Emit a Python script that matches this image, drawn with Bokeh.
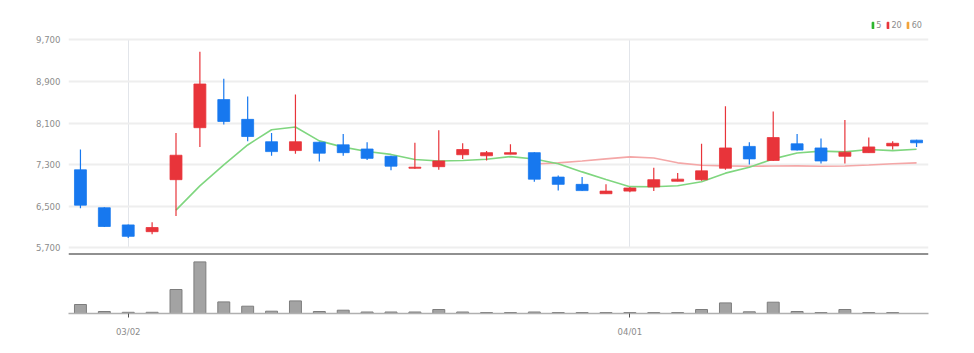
from bokeh.plotting import figure
from bokeh.layouts import column
from bokeh.models import Range1d, FixedTicker, Span, NumeralTickFormatter, ColumnDataSource
from bokeh.embed import file_html
from bokeh.resources import INLINE

# ---- data ----
opens  = [7200, 6470, 6140, 6010, 7010, 8010, 8550, 8170, 7740, 7570, 7730, 7680, 7600, 7460, 7230, 7260, 7490, 7470,
          7500, 7530, 7060, 6920, 6740, 6790, 6870, 6980, 7010, 7230, 7650, 7380, 7700, 7620, 7460, 7530, 7660, 7770]
highs  = [7590, 6480, 6150, 6190, 7910, 9470, 8950, 8610, 7910, 8650, 7740, 7890, 7730, 7470, 7720, 7960, 7710, 7560,
          7690, 7540, 7090, 7060, 6920, 6870, 7240, 7140, 7700, 8420, 7730, 8320, 7890, 7800, 8160, 7820, 7750, 7780]
lows   = [6460, 6100, 5890, 5960, 6310, 7640, 8070, 7750, 7470, 7510, 7360, 7470, 7390, 7190, 7220, 7200, 7410, 7380,
          7500, 6970, 6800, 6790, 6740, 6770, 6790, 6980, 6990, 7200, 7300, 7370, 7570, 7320, 7320, 7530, 7590, 7640]
closes = [6520, 6110, 5920, 6090, 7480, 8850, 8130, 7840, 7550, 7740, 7520, 7530, 7420, 7270, 7250, 7370, 7590, 7530,
          7530, 7020, 6920, 6800, 6790, 6850, 7010, 7020, 7180, 7620, 7410, 7820, 7580, 7370, 7540, 7640, 7710, 7720]
volumes = [180, 40, 24, 24, 480, 1032, 232, 146, 46, 252, 40, 66, 30, 30, 30, 80, 30, 20,
           20, 30, 20, 20, 20, 20, 20, 20, 80, 212, 34, 226, 40, 20, 80, 20, 20, 0]
ma5  = [None] * 4 + [6424, 6890, 7294, 7678, 7970, 8022, 7756, 7636, 7552, 7496, 7398, 7368, 7380, 7402, 7454,
                     7408, 7318, 7160, 7012, 6876, 6874, 6894, 6970, 7136, 7248, 7410, 7522, 7560, 7544, 7590,
                     7568, 7596]
ma20 = [None] * 19 + [7313, 7333, 7368, 7411, 7449, 7426, 7334, 7287, 7276, 7269, 7273, 7276, 7268, 7274, 7292,
                      7315, 7333]
price_ticks = [5700, 6500, 7300, 8100, 8900, 9700]
date_tick_index = [2, 23]
date_tick_labels = ["03/02", "04/01"]
legend_labels = ["5", "20", "60"]

# ---- styles ----
UP, DOWN = "#e8343a", "#1778ef"
GREEN, PINK = "#7fd67f", "#f4a7a7"
LEG_COLORS = ["#2db52d", "#e8343a", "#f2a43a"]
FONT = "DejaVu Sans Condensed"
LABEL_GRAY = "#8c8c8c"

n = len(closes)
idx = list(range(n))
colors = [UP if c >= o else DOWN for o, c in zip(opens, closes)]
src = ColumnDataSource(dict(
    x=idx, high=highs, low=lows,
    top=[max(o, c) for o, c in zip(opens, closes)],
    bottom=[min(o, c) for o, c in zip(opens, closes)],
    color=colors, vol=volumes,
))
nan = float("nan")
ma5f = [nan if v is None else v for v in ma5]
ma20f = [nan if v is None else v for v in ma20]

x_range = Range1d(-0.5, n - 0.5)

p1 = figure(width=974, height=256, x_range=x_range, y_range=Range1d(5571, 10187),
            x_axis_location=None, output_backend="svg", toolbar_location=None,
            min_border_left=68, min_border_right=46, min_border_top=14, min_border_bottom=2)
p1.outline_line_color = None
p1.yaxis.ticker = FixedTicker(ticks=price_ticks)
p1.yaxis.formatter = NumeralTickFormatter(format="0,0")
p1.yaxis.axis_line_color = None
p1.yaxis.major_tick_line_color = None
p1.yaxis.minor_tick_line_color = None
p1.yaxis.major_label_text_color = LABEL_GRAY
p1.yaxis.major_label_text_font = FONT
p1.yaxis.major_label_text_font_size = "9.5px"
p1.yaxis.major_label_standoff = 2
p1.ygrid.grid_line_color = "#eeeeee"
p1.ygrid.grid_line_width = 2
p1.xgrid.ticker = FixedTicker(ticks=date_tick_index)
p1.xgrid.grid_line_color = "#e2e5ea"
p1.xgrid.grid_line_width = 1
try:
    p1.xgrid.cross_bounds = (price_ticks[0], price_ticks[-1])
except AttributeError:
    pass

p1.line(idx, ma20f, line_color=PINK, line_width=1.6)
p1.line(idx, ma5f, line_color=GREEN, line_width=1.6)
p1.segment(x0="x", y0="low", x1="x", y1="high", source=src, line_color="color", line_width=1.2)
p1.vbar(x="x", width=0.5, top="top", bottom="bottom", source=src,
        fill_color="color", line_color="color", line_width=0.8)

p1.add_layout(Span(location=5571, dimension="width", line_color="#222222", line_width=2))

# legend swatches (moving-average periods); swatch renderers themselves are hidden
for lab, col in zip(legend_labels, LEG_COLORS):
    r = p1.rect(x=[idx[0]], y=[price_ticks[0]], width=1, height=1,
                fill_color=col, line_color=col, legend_label=lab)
    r.visible = False
leg = p1.legend[0]
leg.location = "top_right"
leg.orientation = "horizontal"
leg.margin = 6
leg.padding = 2
leg.spacing = 5
leg.glyph_width = 3
leg.glyph_height = 8
leg.label_standoff = 2
leg.label_height = 8
leg.label_width = 0
leg.label_text_font = FONT
leg.label_text_font_size = "9px"
leg.label_text_color = LABEL_GRAY
leg.border_line_color = None
leg.background_fill_alpha = 0
leg.inactive_fill_alpha = 0
leg.click_policy = "none"

p2 = figure(width=974, height=97, x_range=x_range, y_range=Range1d(0, 1140),
            y_axis_location=None, output_backend="svg", toolbar_location=None,
            min_border_left=68, min_border_right=46, min_border_top=0, min_border_bottom=40)
p2.outline_line_color = None
p2.xgrid.visible = False
p2.ygrid.visible = False
p2.vbar(x="x", width=0.5, top="vol", bottom=0, source=src,
        fill_color="#a3a3a3", line_color="#7d7d7d", line_width=1)
p2.xaxis.ticker = FixedTicker(ticks=date_tick_index)
p2.xaxis.major_label_overrides = dict(zip(date_tick_index, date_tick_labels))
p2.xaxis.axis_line_color = "#b0b0b0"
p2.xaxis.axis_line_width = 1.5
p2.xaxis.major_tick_line_color = "#555555"
p2.xaxis.major_tick_in = 0
p2.xaxis.major_tick_out = 4
p2.xaxis.minor_tick_line_color = None
p2.xaxis.major_label_text_color = LABEL_GRAY
p2.xaxis.major_label_text_font = FONT
p2.xaxis.major_label_text_font_size = "9.5px"
p2.xaxis.major_label_standoff = 8

layout = column(p1, p2, spacing=0)
open("out.html", "w").write(file_html(layout, INLINE))
